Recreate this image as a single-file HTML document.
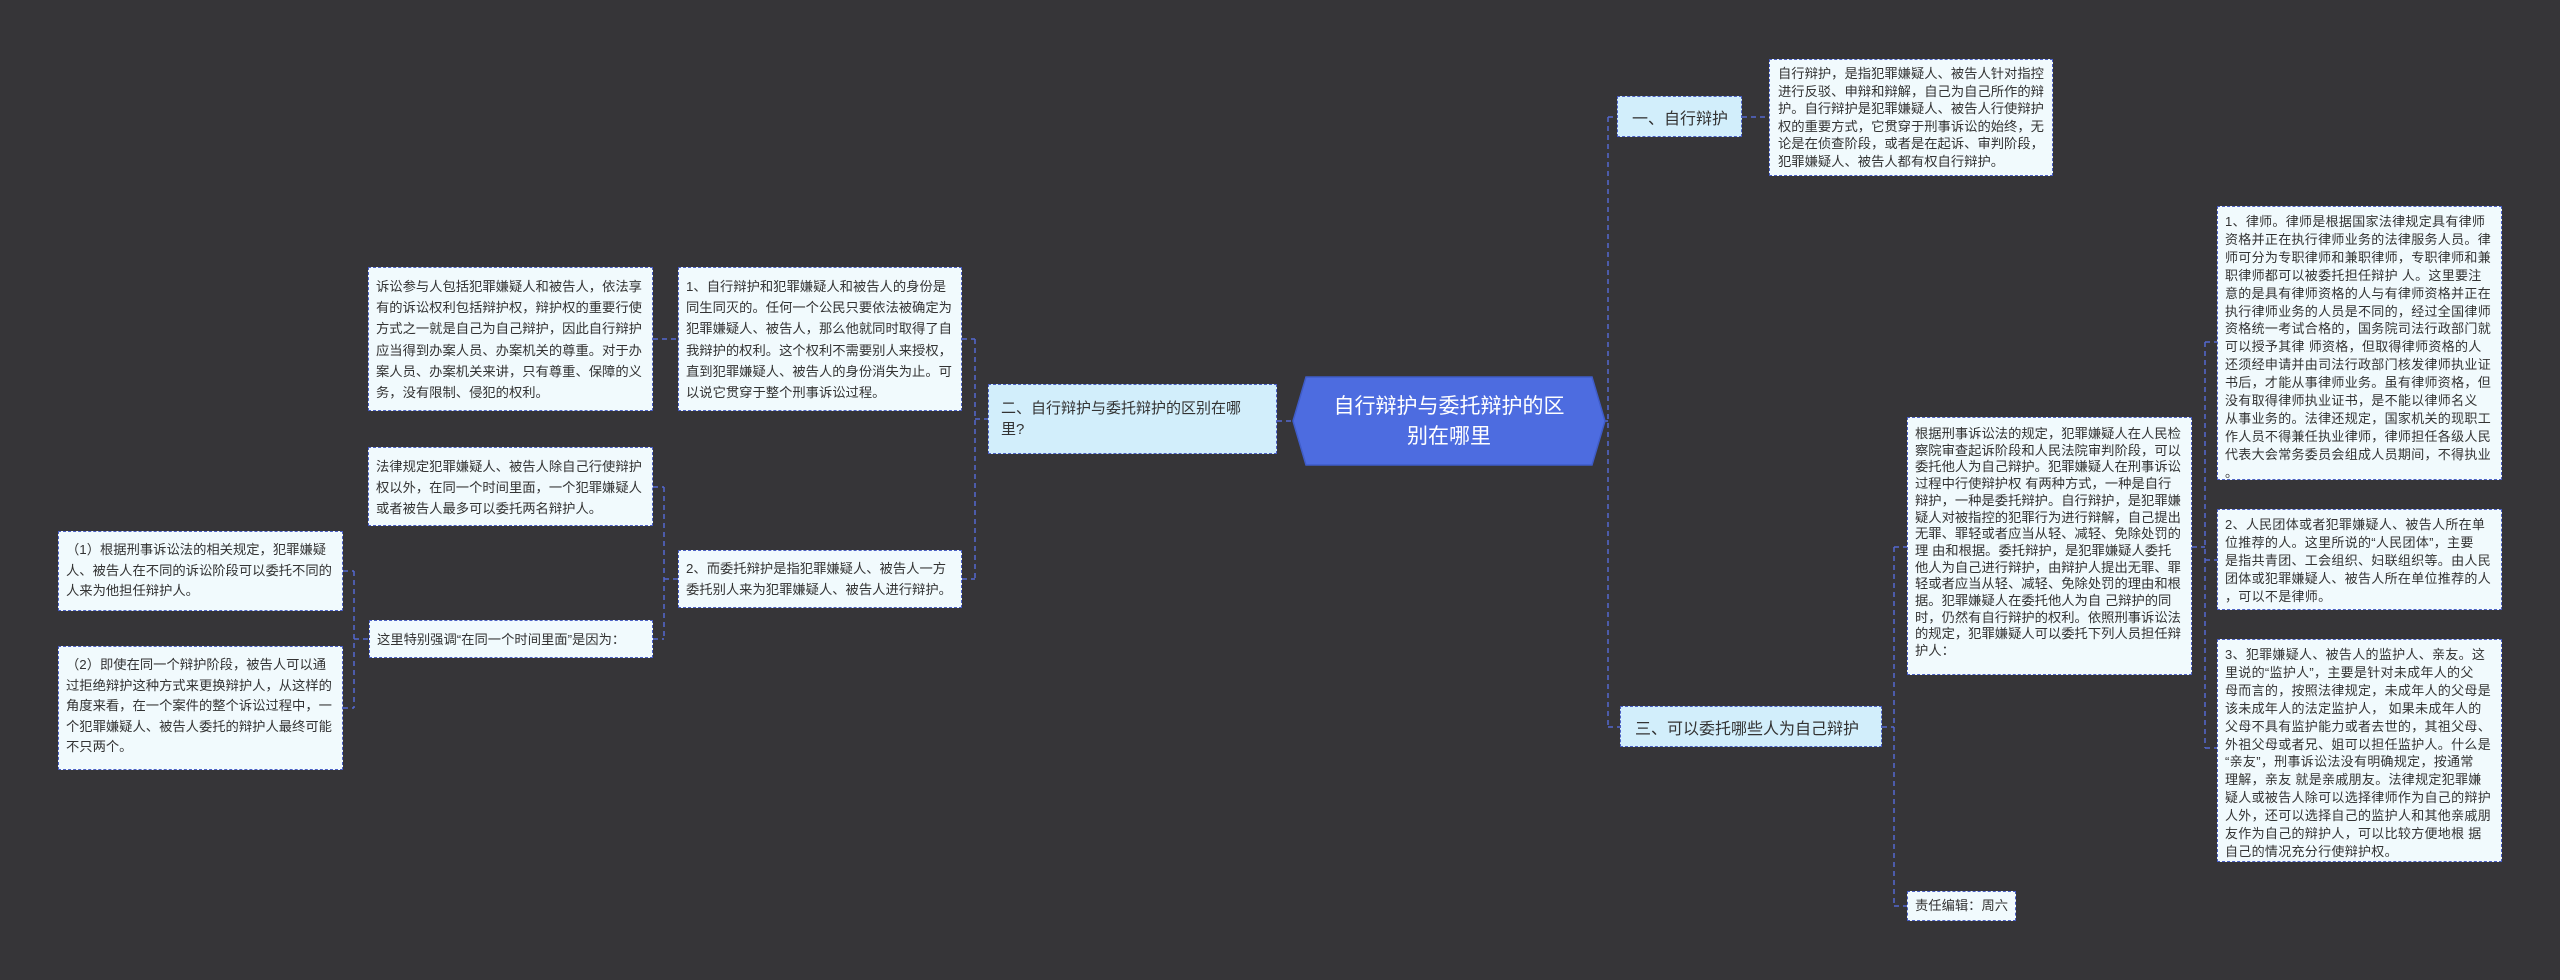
<!DOCTYPE html>
<html><head><meta charset="utf-8">
<style>
html,body{margin:0;padding:0}
body{width:2560px;height:980px;background:#363538;position:relative;overflow:hidden;font-family:"Liberation Sans","Noto Sans CJK SC",sans-serif}
.b{position:absolute;box-sizing:border-box;background:#f1fafd;border:1.5px dashed #4a5fc4;color:#333;font-size:13.3px;white-space:nowrap;padding:6px 10px}
.r{font-size:13px;letter-spacing:0.3px;line-height:17.9px}
.n{position:absolute;box-sizing:border-box;background:#d2eefb;border:1.5px dashed #4a5fc4;color:#333;font-size:16px;white-space:nowrap;display:flex;align-items:center;padding:0 14px}
svg{position:absolute;left:0;top:0}
</style></head><body>
<svg width="2560" height="980">
<g stroke="#5468d0" stroke-width="1.5" fill="none" stroke-dasharray="5,4">
<line x1="1595" y1="421" x2="1608" y2="421"/>
<line x1="1608" y1="117" x2="1608" y2="727"/>
<line x1="1608" y1="117" x2="1617" y2="117"/>
<line x1="1608" y1="727" x2="1620" y2="727"/>
<line x1="1742" y1="117" x2="1769" y2="117"/>
<line x1="1882" y1="727" x2="1894" y2="727"/>
<line x1="1894" y1="547" x2="1894" y2="906"/>
<line x1="1894" y1="547" x2="1907" y2="547"/>
<line x1="1894" y1="906" x2="1907" y2="906"/>
<line x1="2192" y1="547" x2="2205" y2="547"/>
<line x1="2205" y1="342" x2="2205" y2="748"/>
<line x1="2205" y1="342" x2="2217" y2="342"/>
<line x1="2205" y1="560" x2="2217" y2="560"/>
<line x1="2205" y1="748" x2="2217" y2="748"/>
<line x1="1277" y1="421" x2="1303" y2="421"/>
<line x1="975" y1="419" x2="988" y2="419"/>
<line x1="975" y1="339" x2="975" y2="579"/>
<line x1="962" y1="339" x2="975" y2="339"/>
<line x1="962" y1="579" x2="975" y2="579"/>
<line x1="653" y1="339" x2="678" y2="339"/>
<line x1="664" y1="579" x2="678" y2="579"/>
<line x1="664" y1="487" x2="664" y2="639"/>
<line x1="653" y1="487" x2="664" y2="487"/>
<line x1="653" y1="639" x2="664" y2="639"/>
<line x1="354" y1="639" x2="369" y2="639"/>
<line x1="354" y1="571" x2="354" y2="708"/>
<line x1="343" y1="571" x2="354" y2="571"/>
<line x1="343" y1="708" x2="354" y2="708"/>
</g>
<polygon points="1293,421 1306,377 1592,377 1605,421 1592,465 1306,465" fill="#4d6ce0" stroke="#3f5cc8" stroke-width="1.5"/>
<text x="1449" y="413" fill="#fff" font-size="21" text-anchor="middle" font-family="Liberation Sans, Noto Sans CJK SC, sans-serif">自行辩护与委托辩护的区</text>
<text x="1449" y="443" fill="#fff" font-size="21" text-anchor="middle" font-family="Liberation Sans, Noto Sans CJK SC, sans-serif">别在哪里</text>
</svg>

<div class="n" style="left:1617px;top:96px;width:125px;height:41px">一、自行辩护</div>
<div class="b" style="left:1769px;top:59px;width:284px;height:117px;line-height:17.5px;padding:5px 8px">自行辩护，是指犯罪嫌疑人、被告人针对指控<br>进行反驳、申辩和辩解，自己为自己所作的辩<br>护。自行辩护是犯罪嫌疑人、被告人行使辩护<br>权的重要方式，它贯穿于刑事诉讼的始终，无<br>论是在侦查阶段，或者是在起诉、审判阶段，<br>犯罪嫌疑人、被告人都有权自行辩护。</div>

<div class="n" style="left:1620px;top:706px;width:262px;height:41px">三、可以委托哪些人为自己辩护</div>
<div class="b" style="left:1907px;top:417px;width:285px;height:258px;line-height:16.7px;padding:8px 7px">根据刑事诉讼法的规定，犯罪嫌疑人在人民检<br>察院审查起诉阶段和人民法院审判阶段，可以<br>委托他人为自己辩护。犯罪嫌疑人在刑事诉讼<br>过程中行使辩护权 有两种方式，一种是自行<br>辩护，一种是委托辩护。自行辩护，是犯罪嫌<br>疑人对被指控的犯罪行为进行辩解，自己提出<br>无罪、罪轻或者应当从轻、减轻、免除处罚的<br>理 由和根据。委托辩护，是犯罪嫌疑人委托<br>他人为自己进行辩护，由辩护人提出无罪、罪<br>轻或者应当从轻、减轻、免除处罚的理由和根<br>据。犯罪嫌疑人在委托他人为自 己辩护的同<br>时，仍然有自行辩护的权利。依照刑事诉讼法<br>的规定，犯罪嫌疑人可以委托下列人员担任辩<br>护人：</div>
<div class="b" style="left:1907px;top:891px;width:109px;height:30px;line-height:16px;padding:6px 7px">责任编辑：周六</div>

<div class="b r" style="left:2217px;top:206px;width:285px;height:274px;padding:6px 7px">1、律师。律师是根据国家法律规定具有律师<br>资格并正在执行律师业务的法律服务人员。律<br>师可分为专职律师和兼职律师，专职律师和兼<br>职律师都可以被委托担任辩护 人。这里要注<br>意的是具有律师资格的人与有律师资格并正在<br>执行律师业务的人员是不同的，经过全国律师<br>资格统一考试合格的，国务院司法行政部门就<br>可以授予其律 师资格，但取得律师资格的人<br>还须经申请并由司法行政部门核发律师执业证<br>书后，才能从事律师业务。虽有律师资格，但<br>没有取得律师执业证书，是不能以律师名义<br>从事业务的。法律还规定，国家机关的现职工<br>作人员不得兼任执业律师，律师担任各级人民<br>代表大会常务委员会组成人员期间，不得执业<br>。</div>
<div class="b r" style="left:2217px;top:509px;width:285px;height:101px;padding:6px 7px">2、人民团体或者犯罪嫌疑人、被告人所在单<br>位推荐的人。这里所说的“人民团体”，主要<br>是指共青团、工会组织、妇联组织等。由人民<br>团体或犯罪嫌疑人、被告人所在单位推荐的人<br>，可以不是律师。</div>
<div class="b r" style="left:2217px;top:639px;width:285px;height:223px;padding:6px 7px">3、犯罪嫌疑人、被告人的监护人、亲友。这<br>里说的“监护人”，主要是针对未成年人的父<br>母而言的，按照法律规定，未成年人的父母是<br>该未成年人的法定监护人， 如果未成年人的<br>父母不具有监护能力或者去世的，其祖父母、<br>外祖父母或者兄、姐可以担任监护人。什么是<br>“亲友”，刑事诉讼法没有明确规定，按通常<br>理解，亲友 就是亲戚朋友。法律规定犯罪嫌<br>疑人或被告人除可以选择律师作为自己的辩护<br>人外，还可以选择自己的监护人和其他亲戚朋<br>友作为自己的辩护人，可以比较方便地根 据<br>自己的情况充分行使辩护权。</div>

<div class="n" style="left:988px;top:384px;width:289px;height:70px;line-height:21px;white-space:normal;padding:0 12px;font-size:15px">二、自行辩护与委托辩护的区别在哪里?</div>
<div class="b" style="left:678px;top:267px;width:284px;height:144px;line-height:21.2px;padding:8px 7px">1、自行辩护和犯罪嫌疑人和被告人的身份是<br>同生同灭的。任何一个公民只要依法被确定为<br>犯罪嫌疑人、被告人，那么他就同时取得了自<br>我辩护的权利。这个权利不需要别人来授权，<br>直到犯罪嫌疑人、被告人的身份消失为止。可<br>以说它贯穿于整个刑事诉讼过程。</div>
<div class="b" style="left:368px;top:267px;width:285px;height:144px;line-height:21.2px;padding:8px 7px">诉讼参与人包括犯罪嫌疑人和被告人，依法享<br>有的诉讼权利包括辩护权，辩护权的重要行使<br>方式之一就是自己为自己辩护，因此自行辩护<br>应当得到办案人员、办案机关的尊重。对于办<br>案人员、办案机关来讲，只有尊重、保障的义<br>务，没有限制、侵犯的权利。</div>
<div class="b" style="left:678px;top:550px;width:284px;height:58px;line-height:21px;padding:7px 7px">2、而委托辩护是指犯罪嫌疑人、被告人一方<br>委托别人来为犯罪嫌疑人、被告人进行辩护。</div>
<div class="b" style="left:368px;top:447px;width:285px;height:79px;line-height:21px;padding:8px 7px">法律规定犯罪嫌疑人、被告人除自己行使辩护<br>权以外，在同一个时间里面，一个犯罪嫌疑人<br>或者被告人最多可以委托两名辩护人。</div>
<div class="b" style="left:369px;top:620px;width:284px;height:38px;line-height:21px;padding:8px 7px">这里特别强调“在同一个时间里面”是因为：</div>
<div class="b" style="left:58px;top:531px;width:285px;height:80px;line-height:20.5px;padding:8px 7px">（1）根据刑事诉讼法的相关规定，犯罪嫌疑<br>人、被告人在不同的诉讼阶段可以委托不同的<br>人来为他担任辩护人。</div>
<div class="b" style="left:58px;top:646px;width:285px;height:124px;line-height:20.5px;padding:8px 7px">（2）即使在同一个辩护阶段，被告人可以通<br>过拒绝辩护这种方式来更换辩护人，从这样的<br>角度来看，在一个案件的整个诉讼过程中，一<br>个犯罪嫌疑人、被告人委托的辩护人最终可能<br>不只两个。</div>
</body></html>
